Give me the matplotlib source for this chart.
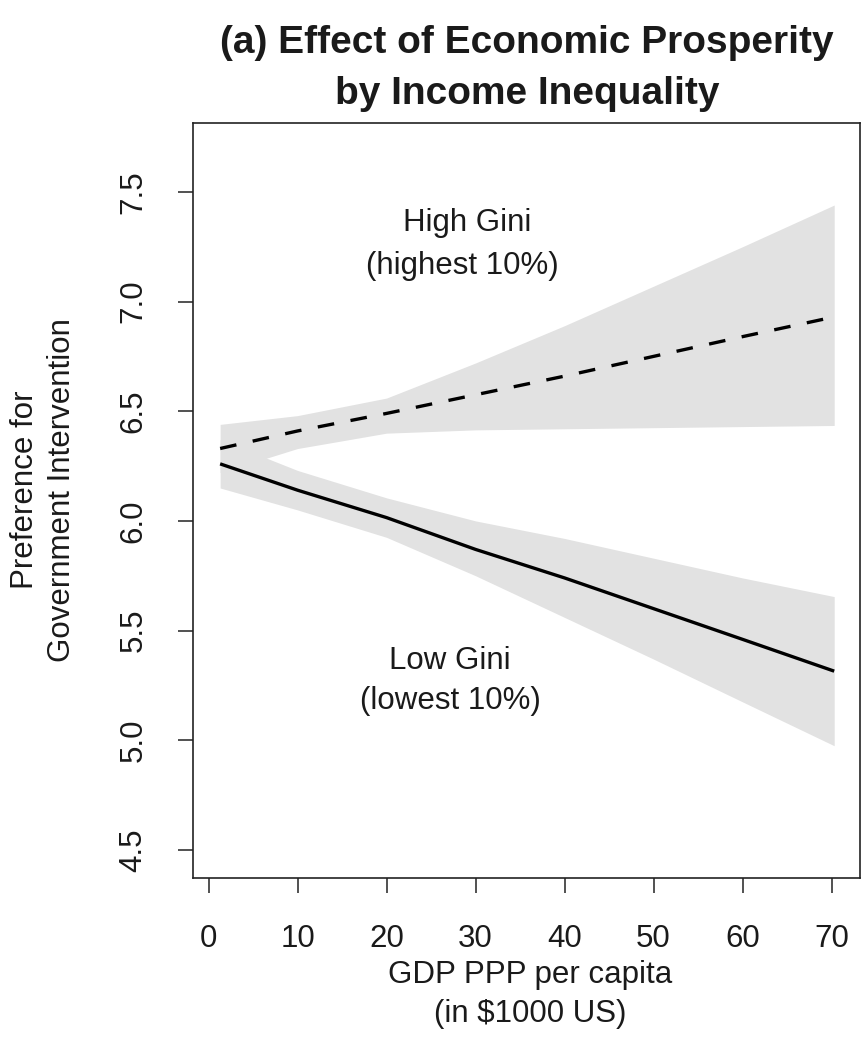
import matplotlib
matplotlib.use("Agg")
import matplotlib.pyplot as plt
import numpy as np

plt.rcParams['font.family'] = ['Liberation Sans', 'DejaVu Sans']

# ---- data ----
gdp = [1.3, 10, 20, 30, 40, 50, 60, 70.3]

high_gini_fit = [6.33, 6.41, 6.49, 6.575, 6.66, 6.75, 6.84, 6.93]
high_gini_upper = [6.44, 6.48, 6.56, 6.72, 6.89, 7.07, 7.25, 7.44]
high_gini_lower = [6.22, 6.33, 6.40, 6.415, 6.42, 6.425, 6.43, 6.435]

low_gini_fit = [6.26, 6.14, 6.015, 5.87, 5.74, 5.60, 5.46, 5.315]
low_gini_upper = [6.37, 6.23, 6.105, 6.00, 5.92, 5.83, 5.74, 5.655]
low_gini_lower = [6.15, 6.05, 5.925, 5.75, 5.56, 5.37, 5.175, 4.975]

x_ticks = [0, 10, 20, 30, 40, 50, 60, 70]
y_ticks = [4.5, 5.0, 5.5, 6.0, 6.5, 7.0, 7.5]
y_tick_labels = ["4.5", "5.0", "5.5", "6.0", "6.5", "7.0", "7.5"]

title = ["(a) Effect of Economic Prosperity", "by Income Inequality"]
x_label = ["GDP PPP per capita", "(in $1000 US)"]
y_label = ["Preference for", "Government Intervention"]
high_label = ["High Gini", "(highest 10%)"]
low_label = ["Low Gini", "(lowest 10%)"]

# ---- figure ----
W, H = 867, 1037
fig = plt.figure(figsize=(W / 100, H / 100), dpi=100)
left, right, top, bottom = 193, 860, 123, 878
ax = fig.add_axes([left / W, 1 - bottom / H, (right - left) / W, (bottom - top) / H])

txt = '#1a1a1a'
band = '#e2e2e2'
FS = 22.5

ax.fill_between(gdp, high_gini_lower, high_gini_upper, color=band, lw=0, zorder=1)
ax.fill_between(gdp, low_gini_lower, low_gini_upper, color=band, lw=0, zorder=1)
ax.plot(gdp, low_gini_fit, color='black', lw=2.4, zorder=3, solid_capstyle='butt')
l2, = ax.plot(gdp, high_gini_fit, color='black', lw=2.4, zorder=3, dash_capstyle='butt')
l2.set_dashes((5.0, 5.0))

ax.set_xlim(-1.75, 73.2)
ax.set_ylim(4.372, 7.814)

ax.set_xticks(x_ticks)
ax.set_xticklabels([str(v) for v in x_ticks])
ax.set_yticks(y_ticks)
ax.set_yticklabels(y_tick_labels, rotation=90, va='center')

ax.tick_params(axis='both', direction='out', length=11, width=1.1, color='#222222',
               labelsize=FS, labelcolor=txt)
ax.tick_params(axis='x', pad=22)
ax.tick_params(axis='y', pad=21)
for s in ax.spines.values():
    s.set_linewidth(1.2)
    s.set_color('#222222')

def ftext(px, py, s, **kw):
    fig.text(px / W, 1 - py / H, s, ha='center', va='center', color=txt, **kw)

ftext(467, 223, high_label[0], fontsize=FS)
ftext(462, 266, high_label[1], fontsize=FS)
ftext(450, 661, low_label[0], fontsize=FS)
ftext(450, 701, low_label[1], fontsize=FS)

ftext(527, 43, title[0], fontsize=28, fontweight='bold')
ftext(527, 94, title[1], fontsize=28, fontweight='bold')

ftext(530, 975, x_label[0], fontsize=FS)
ftext(530, 1014, x_label[1], fontsize=FS)
ftext(25, 490, y_label[0], fontsize=FS, rotation=90)
ftext(62, 490, y_label[1], fontsize=FS, rotation=90)

fig.savefig("out.png", dpi=100)
